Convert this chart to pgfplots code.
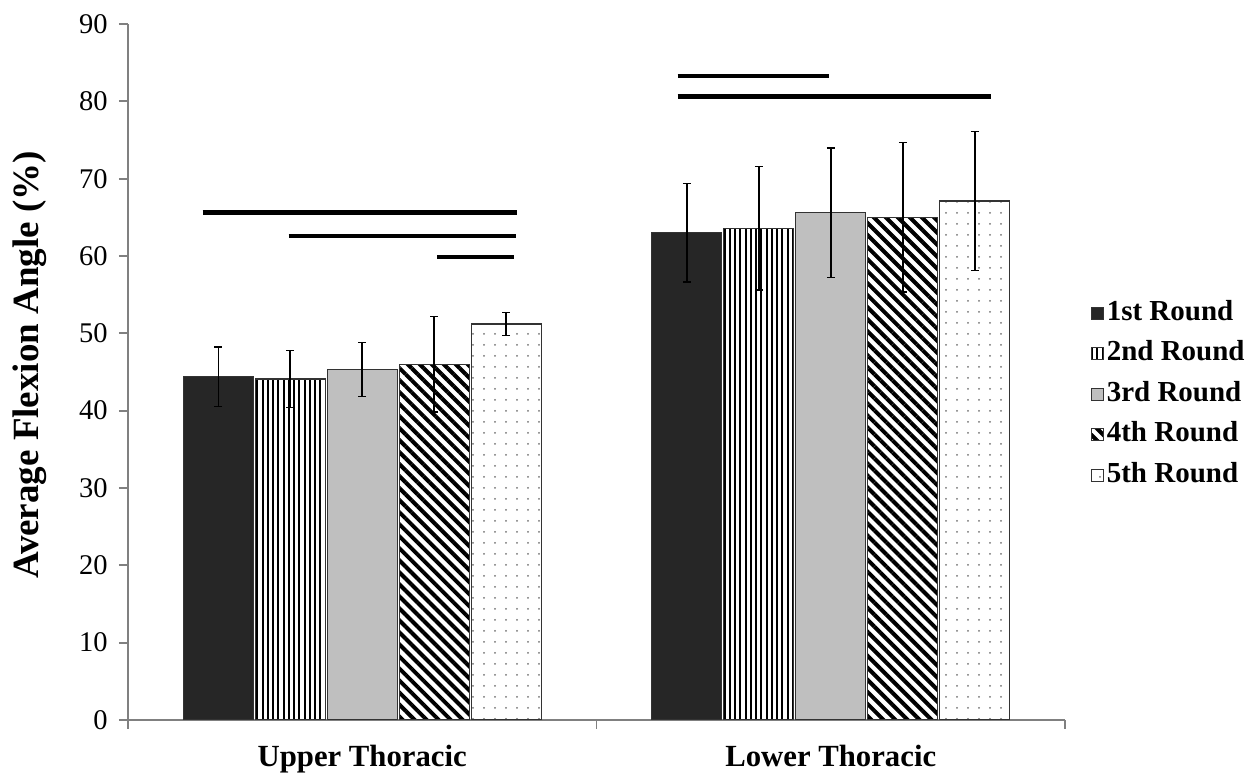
\documentclass[border=0pt]{standalone}
\usepackage{fontspec}
\setmainfont{Liberation Serif}
\usepackage{pgfplots}
\pgfplotsset{compat=1.18}
\usetikzlibrary{patterns.meta}
\pgfplotsset{
  mybar/.style={ybar, bar width=28pt, bar shift=0pt, draw=black!80, line width=0.5pt,
    legend image code/.code={\draw[##1, line width=0.4pt] (0pt,-2.4pt) rectangle (4.8pt,2.4pt);},
    error bars/y dir=both, error bars/y explicit,
    error bars/error bar style={line width=0.6pt, black, solid},
    error bars/error mark options={rotate=90, mark size=1.6pt, line width=0.6pt, black}}
}
\begin{document}
\begin{tikzpicture}
\begin{axis}[name=A, scale only axis, width=374.8pt, height=278.4pt,
  xmin=-0.5, xmax=1.5, ymin=0, ymax=90,
  axis lines=left, axis line style={-, draw=black!50, line width=0.7pt},
  tick align=outside,
  ytick={0,10,...,90}, major tick length=3.6pt,
  tick style={draw=black!50, line width=0.7pt},
  xtick={-0.5,0.5,1.5}, xticklabels={},
  extra x ticks={0,1}, extra x tick labels={Upper Thoracic, Lower Thoracic},
  extra x tick style={major tick length=0pt, xticklabel style={font=\bfseries\fontsize{12.3}{14}\selectfont, yshift=-6.6pt}},
  /pgf/number format/assume math mode=true,
  yticklabel style={font=\fontsize{11.4}{13}\selectfont, xshift=-1pt},
  ylabel={Average Flexion Angle (\%)},
  every axis y label/.style={at={(axis description cs:-0.1046,0.51)}, rotate=90, anchor=center, font=\bfseries\fontsize{14.8}{17}\selectfont},
  legend style={at={(1.027,0.468)}, anchor=west, draw=none, fill=none, inner sep=0pt,
    font=\bfseries\fontsize{11.6}{13}\selectfont, row sep=3.3pt,
    nodes={inner sep=1.2pt, text height=8pt, text depth=2.5pt}},
  legend cell align=left,
]
\addplot[mybar, fill=black!85] coordinates {(-0.30736,44.4) +- (0,3.85) (0.69264,63.0) +- (0,6.35)};
\addplot[mybar, pattern={Lines[angle=90,distance=2.1pt,line width=0.8pt]}] coordinates {(-0.15368,44.1) +- (0,3.7) (0.84632,63.6) +- (0,8.0)};
\addplot[mybar, fill=black!25] coordinates {(0,45.3) +- (0,3.5) (1,65.6) +- (0,8.35)};
\addplot[mybar, pattern={Lines[angle=-45,distance=3.4pt,line width=1.6pt]}] coordinates {(0.15368,46.0) +- (0,6.2) (1.15368,65.0) +- (0,9.65)};
\addplot[mybar, pattern={Dots[distance=4.4pt,radius=0.4pt]}, pattern color=black!55] coordinates {(0.30736,51.2) +- (0,1.5) (1.30736,67.1) +- (0,9.0)};
\legend{1st Round, 2nd Round, 3rd Round, 4th Round, 5th Round}
% significance lines
\addplot[black, line width=1.8pt, forget plot] coordinates {(-0.3405,65.6) (0.3299,65.6)};
\addplot[black, line width=1.8pt, forget plot] coordinates {(-0.157,62.6) (0.3277,62.6)};
\addplot[black, line width=1.8pt, forget plot] coordinates {(0.1606,59.9) (0.324,59.9)};
\addplot[black, line width=1.8pt, forget plot] coordinates {(0.673,83.3) (0.997,83.3)};
\addplot[black, line width=1.8pt, forget plot] coordinates {(0.673,80.6) (1.343,80.6)};
\end{axis}
\pgfresetboundingbox
\path ([xshift=-51.2pt,yshift=-21.6pt]A.south west) rectangle ([xshift=77.6pt,yshift=9.6pt]A.north east);
\end{tikzpicture}
\end{document}
